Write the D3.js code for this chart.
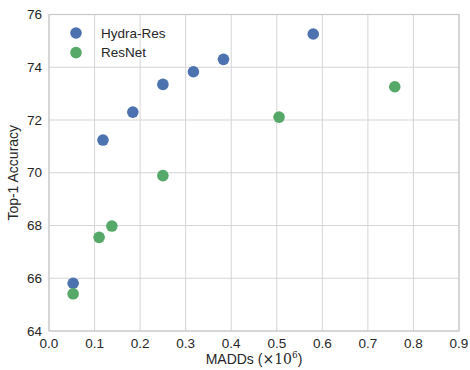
<!DOCTYPE html>
<html>
<head>
<meta charset="utf-8">
<script src="https://cdn.jsdelivr.net/npm/d3@7"></script>
<style>
  body { margin: 0; background: #fff; }
  text { font-family: "Liberation Sans", Arial, sans-serif; fill: #262626; }
</style>
</head>
<body>
<svg id="chart"></svg>
<script>
const hydraX = [0.053, 0.1185, 0.184, 0.250, 0.317, 0.383, 0.580];
const hydraY = [65.81, 71.24, 72.30, 73.35, 73.83, 74.30, 75.26];
const resnetX = [0.053, 0.110, 0.138, 0.250, 0.505, 0.759];
const resnetY = [65.41, 67.55, 67.98, 69.89, 72.11, 73.26];
const xTicks = [0, 0.1, 0.2, 0.3, 0.4, 0.5, 0.6, 0.7, 0.8, 0.9];
const yTicks = [64, 66, 68, 70, 72, 74, 76];
const seriesNames = ["Hydra-Res", "ResNet"];
const seriesColors = ["#4c72b0", "#55a868"];

function main() {
    const width = 470;
    const height = 370;
    const margin = {left: 49, right: 11, top: 14.5, bottom: 39};

    const svg = d3.select("#chart").attr("width", width).attr("height", height);

    const x = d3.scaleLinear().domain([0, 0.9]).range([margin.left, width - margin.right]);
    const y = d3.scaleLinear().domain([64, 76]).range([height - margin.bottom, margin.top]);

    // grid
    svg.append("g").selectAll("line").data(xTicks).join("line")
        .attr("x1", d => x(d)).attr("x2", d => x(d))
        .attr("y1", y(64)).attr("y2", y(76))
        .attr("stroke", "#d5d5d5").attr("stroke-width", 1);
    svg.append("g").selectAll("line").data(yTicks).join("line")
        .attr("x1", x(0)).attr("x2", x(0.9))
        .attr("y1", d => y(d)).attr("y2", d => y(d))
        .attr("stroke", "#d5d5d5").attr("stroke-width", 1);

    // frame
    svg.append("rect")
        .attr("x", x(0)).attr("y", y(76))
        .attr("width", x(0.9) - x(0)).attr("height", y(64) - y(76))
        .attr("fill", "none").attr("stroke", "#c8c8c8").attr("stroke-width", 1.2);

    // tick labels
    svg.append("g").selectAll("text").data(xTicks).join("text")
        .attr("x", d => x(d)).attr("y", y(64) + 17)
        .attr("text-anchor", "middle").attr("font-size", 13.5)
        .text(d3.format(".1f"));
    svg.append("g").selectAll("text").data(yTicks).join("text")
        .attr("x", x(0) - 7).attr("y", d => y(d) + 4.5)
        .attr("text-anchor", "end").attr("font-size", 13.5)
        .text(d => d);

    // axis labels
    const xl = svg.append("text")
        .attr("x", (x(0) + x(0.9)) / 2).attr("y", 364)
        .attr("text-anchor", "middle").attr("font-size", 14);
    xl.append("tspan").text("MADDs (");
    xl.append("tspan").attr("font-family", "DejaVu Serif, serif").text("×10");
    xl.append("tspan").attr("font-size", 9).attr("dy", -6).attr("font-family", "DejaVu Serif, serif").text("6");
    xl.append("tspan").attr("dy", 6).text(")");

    svg.append("text")
        .attr("transform", "translate(18," + ((y(64) + y(76)) / 2) + ") rotate(-90)")
        .attr("text-anchor", "middle").attr("font-size", 14)
        .text("Top-1 Accuracy");

    // points
    const series = [
        {xs: hydraX, ys: hydraY},
        {xs: resnetX, ys: resnetY}
    ];
    series.forEach((s, i) => {
        svg.append("g").selectAll("circle").data(s.xs).join("circle")
            .attr("cx", d => x(d)).attr("cy", (d, j) => y(s.ys[j]))
            .attr("r", 5.8).attr("fill", seriesColors[i]);
    });

    // legend
    const legend = svg.append("g").selectAll("g").data(seriesNames).join("g")
        .attr("transform", (d, i) => "translate(76," + (33 + i * 19.6) + ")");
    legend.append("circle").attr("r", 5.8).attr("fill", (d, i) => seriesColors[i]);
    legend.append("text").attr("x", 25).attr("y", 4.5).attr("font-size", 13.5).text(d => d);
}

main();
</script>
</body>
</html>
